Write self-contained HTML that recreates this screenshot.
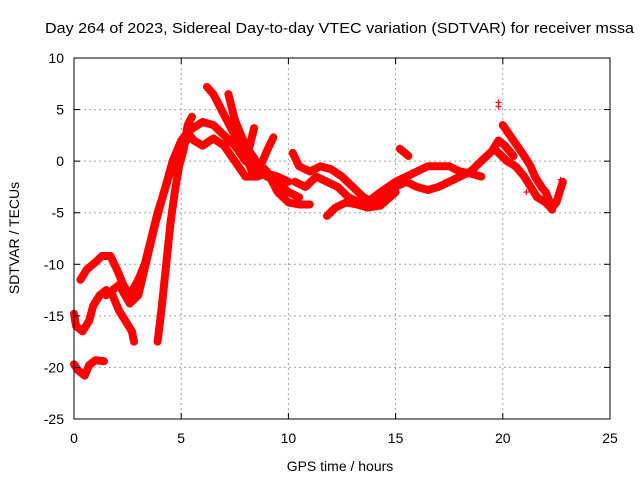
<!DOCTYPE html>
<html><head><meta charset="utf-8"><style>
body{margin:0;background:#fff}
svg text{font-family:"Liberation Sans",sans-serif;font-size:14px;fill:#000}
</style></head><body>
<svg id="chart" width="640" height="480" xmlns="http://www.w3.org/2000/svg">
<rect width="640" height="480" fill="#fff"/>
<g id="grid"></g>
<g id="series"></g>
<rect x="74" y="58" width="536" height="361" fill="none" stroke="#000" stroke-width="1"/>
<g id="ticks"></g>
<text x="45" y="33" textLength="589" lengthAdjust="spacingAndGlyphs" style="font-size:15px">Day 264 of 2023, Sidereal Day-to-day VTEC variation (SDTVAR) for receiver mssa</text>
<text x="340" y="471" text-anchor="middle">GPS time / hours</text>
<text x="19" y="238" text-anchor="middle" transform="rotate(-90 19 238)">SDTVAR / TECUs</text>
</svg>
<script>
const xTicks=[0,5,10,15,20,25];
const yTicks=[10,5,0,-5,-10,-15,-20,-25];
const track1=[[0,-19.7],[0.2,-20.3],[0.5,-20.8],[0.7,-19.8],[1.0,-19.3],[1.4,-19.4]];
const track2=[[0,-14.8],[0.1,-16],[0.4,-16.5],[0.7,-15.5],[0.9,-14],[1.2,-13],[1.5,-12.5],[1.8,-13],[2.1,-14.5],[2.4,-15.5],[2.7,-16.5],[2.8,-17.5]];
const track3=[[0.3,-11.5],[0.6,-10.5],[1.0,-9.8],[1.3,-9.2],[1.7,-9.2],[2.0,-10.5],[2.3,-12],[2.6,-13],[3.0,-11.5],[3.3,-10],[3.6,-7.5],[3.9,-5],[4.2,-3],[4.5,-1],[4.8,0.5],[5.1,1.5],[5.4,2.5],[5.6,2.0],[6.0,1.5],[6.5,2.2],[7.0,1.5],[7.5,0],[8.0,-1.5],[8.5,-1.5],[9.0,-1.2],[9.5,-1.5],[10,-2]];
const track4=[[3.9,-17.5],[4.1,-14],[4.3,-10],[4.5,-6],[4.7,-3],[4.9,-0.5],[5.1,1],[5.3,3.5],[5.5,4.3]];
const track5=[[1.5,-13],[1.8,-12.5],[2.1,-12],[2.6,-13.8],[3.0,-13],[3.4,-9.5],[3.8,-6],[4.2,-3],[4.6,0],[5.0,2],[5.4,3],[6.0,3.8],[6.5,3.5],[7.0,2.5],[7.5,1.5],[8.0,0],[8.5,-0.5],[9.0,-1.5],[9.5,-2],[10,-3],[10.5,-3.5]];
const track6=[[6.2,7.2],[6.5,6.5],[7.0,4.5],[7.5,2.5],[8.0,0.5],[8.4,-1.5]];
const track7=[[7.2,6.5],[7.5,4],[8.0,1.5],[8.5,0],[9.0,-1],[9.5,-3],[10,-4],[10.5,-4.2],[11,-4.2]];
const track8=[[8.4,3.2],[8.2,1.5],[8.0,0.5]];
const track9=[[9.3,2.3],[9.0,1],[8.8,0]];
const track10=[[10.2,0.8],[10.5,-0.5],[11,-1],[11.5,-0.5],[12,-0.8],[12.5,-1.5],[13,-2.5],[13.5,-3.5],[14,-4],[14.5,-3.5],[15,-2.5],[15.5,-2],[16,-2.5],[16.5,-2.8],[17,-2.5],[17.5,-2],[18,-1.5],[18.5,-1],[19,0],[19.5,1],[19.8,2],[20.1,1.5],[20.5,0.5]];
const track11=[[10.3,-2],[10.8,-2.5],[11.3,-1.5],[11.8,-2],[12.3,-2.5],[12.8,-3.5],[13.3,-4],[13.8,-3.8],[14.3,-3],[15,-2],[15.5,-1.5],[16,-1],[16.5,-0.5],[17,-0.5],[17.5,-0.5],[18,-1],[18.5,-1.2],[19,-1.5]];
const track12=[[11.8,-5.3],[12.2,-4.5],[12.7,-4],[13.2,-4.2],[13.7,-4.5],[14.3,-4.3],[15,-3]];
const track13=[[15.2,1.2],[15.6,0.5]];
const track14=[[20,3.5],[20.5,2],[21,0.5],[21.3,-0.5],[21.5,-1.5],[21.8,-2.5],[22,-3],[22.3,-4.5],[22.5,-4],[22.8,-2]];
const track15=[[19.7,1],[20.2,0],[20.6,-0.5],[21,-1.5],[21.3,-2.5],[21.6,-3.5],[22,-4],[22.3,-4.7]];
const outliers=[[19.8,5.3],[19.8,5.7],[21.1,-3],[22.7,-1.8]];
const tracks=[track1,track2,track3,track4,track5,track6,track7,track8,track9,track10,track11,track12,track13,track14,track15];

const X0=74,X1=610,Y0=419,Y1=58;
const xs=h=>X0+(h-0)/(25-0)*(X1-X0);
const ys=v=>Y0-(v+25)/(35)*(Y0-Y1);
const NS="http://www.w3.org/2000/svg";
const grid=document.getElementById('grid'),ticks=document.getElementById('ticks'),ser=document.getElementById('series');
function mk(tag,attrs,parent){const e=document.createElementNS(NS,tag);for(const k in attrs)e.setAttribute(k,attrs[k]);parent.appendChild(e);return e;}
xTicks.forEach(t=>{
  const x=xs(t);
  if(t>0&&t<25){const g=mk('line',{x1:x,x2:x,y1:Y1,y2:Y0,stroke:'#a0a0a0','stroke-dasharray':'2,3'},grid);
  
  }
  mk('line',{x1:x,x2:x,y1:Y0,y2:Y0-6,stroke:'#000'},ticks);
  mk('line',{x1:x,x2:x,y1:Y1,y2:Y1+6,stroke:'#000'},ticks);
  const l=mk('text',{x:x,y:443,'text-anchor':'middle'},ticks);l.textContent=t;
  
  
});
yTicks.forEach(t=>{
  const y=ys(t);
  if(t>-25&&t<10){const g=mk('line',{x1:X0,x2:X1,y1:y,y2:y,stroke:'#a0a0a0','stroke-dasharray':'2,3'},grid);
  
  }
  mk('line',{x1:X0,x2:X0+6,y1:y,y2:y,stroke:'#000'},ticks);
  mk('line',{x1:X1,x2:X1-6,y1:y,y2:y,stroke:'#000'},ticks);
  const l=mk('text',{x:64,y:y+5,'text-anchor':'end'},ticks);l.textContent=t;
  
  
});
tracks.forEach((tr,i)=>{
  const p=mk('polyline',{points:tr.map(d=>xs(d[0])+','+ys(d[1])).join(' '),fill:'none',stroke:'#ff0000','stroke-width':8,'stroke-linejoin':'round','stroke-linecap':'round'},ser);
  
  
});
outliers.forEach(d=>{
  const x=xs(d[0]),y=ys(d[1]);
  const p=mk('path',{d:`M${x-3},${y}H${x+3}M${x},${y-3}V${y+3}`,stroke:'#ff0000','stroke-width':1.2},ser);
  
  
});
</script>
</body></html>
